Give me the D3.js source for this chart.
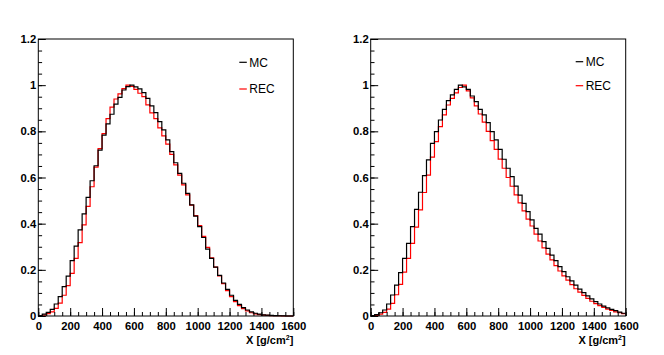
<!DOCTYPE html>
<html>
<head>
<meta charset="utf-8">
<script src="https://cdn.jsdelivr.net/npm/d3@7"></script>
<style>
  body { margin: 0; background: #fff; }
  svg { display: block; }
</style>
</head>
<body>
<div id="chart"></div>
<script>
// histogram binning: 64 bins of 25 g/cm2 from 0 to 1600
const binWidth = 25;
const xTickLabels = [0, 200, 400, 600, 800, 1000, 1200, 1400, 1600];
const yTickLabels = [0, 0.2, 0.4, 0.6, 0.8, 1, 1.2];
const seriesNames = ["MC", "REC"];

const mcLeft = [
  0.002, 0.008, 0.016, 0.029, 0.052, 0.084, 0.127, 0.173,
  0.240, 0.303, 0.373, 0.442, 0.514, 0.586, 0.651, 0.719,
  0.784, 0.832, 0.874, 0.918, 0.947, 0.979, 0.994, 1.000,
  0.993, 0.984, 0.968, 0.943, 0.910, 0.881, 0.842, 0.806,
  0.763, 0.712, 0.664, 0.618, 0.575, 0.531, 0.481, 0.433,
  0.387, 0.340, 0.290, 0.250, 0.212, 0.176, 0.143, 0.115,
  0.090, 0.068, 0.050, 0.036, 0.026, 0.018, 0.012, 0.008,
  0.005, 0.004, 0.003, 0.002, 0.001, 0.001, 0.000, 0.000
];
const recLeft = [
  0.001, 0.004, 0.010, 0.018, 0.033, 0.056, 0.090, 0.132,
  0.185, 0.250, 0.318, 0.395, 0.475, 0.560, 0.645, 0.725,
  0.790, 0.855, 0.905, 0.940, 0.962, 0.985, 1.000, 0.995,
  0.982, 0.965, 0.950, 0.915, 0.880, 0.855, 0.815, 0.780,
  0.745, 0.700, 0.655, 0.610, 0.568, 0.525, 0.480, 0.435,
  0.392, 0.345, 0.297, 0.252, 0.212, 0.174, 0.140, 0.110,
  0.084, 0.062, 0.045, 0.032, 0.022, 0.014, 0.009, 0.006,
  0.004, 0.003, 0.002, 0.001, 0.001, 0.000, 0.000, 0.000
];
const mcRight = [
  0.002, 0.006, 0.014, 0.026, 0.052, 0.091, 0.134, 0.188,
  0.250, 0.315, 0.387, 0.462, 0.536, 0.608, 0.676, 0.748,
  0.799, 0.849, 0.895, 0.933, 0.958, 0.982, 1.000, 0.993,
  0.982, 0.953, 0.929, 0.895, 0.871, 0.838, 0.799, 0.763,
  0.722, 0.679, 0.640, 0.604, 0.563, 0.524, 0.488, 0.452,
  0.416, 0.380, 0.355, 0.322, 0.293, 0.264, 0.240, 0.214,
  0.192, 0.170, 0.152, 0.134, 0.116, 0.101, 0.087, 0.074,
  0.062, 0.052, 0.043, 0.035, 0.029, 0.023, 0.017, 0.012
];
const recRight = [
  0.001, 0.003, 0.008, 0.016, 0.030, 0.055, 0.092, 0.137,
  0.190, 0.250, 0.315, 0.385, 0.460, 0.535, 0.610, 0.688,
  0.755, 0.820, 0.871, 0.914, 0.943, 0.967, 0.990, 1.000,
  0.975, 0.945, 0.910, 0.875, 0.840, 0.800, 0.760, 0.722,
  0.680, 0.640, 0.600, 0.562, 0.525, 0.490, 0.455, 0.420,
  0.390, 0.355, 0.325, 0.295, 0.268, 0.243, 0.218, 0.195,
  0.174, 0.155, 0.136, 0.118, 0.103, 0.089, 0.076, 0.064,
  0.054, 0.045, 0.037, 0.030, 0.024, 0.018, 0.014, 0.010
];

const colors = { MC: "#000000", REC: "#ff0000" };
const font = "'Liberation Sans', Arial, Helvetica, sans-serif";

const svg = d3.select("#chart")
  .append("svg")
  .attr("width", 664)
  .attr("height", 355);

function drawPanel(left, mc, rec, legend) {
  const width = 255, height = 277, top = 39;

  const g = svg.append("g")
    .attr("transform", `translate(${left}, ${top})`);

  const x = d3.scaleLinear().domain([0, 1600]).range([0, width]);
  const y = d3.scaleLinear().domain([0, 1.2]).range([height, 0]);

  // histograms, REC first so MC sits on top
  const line = d3.line()
    .x(d => x(d.x))
    .y(d => y(d.v))
    .curve(d3.curveStepAfter);

  const toPoints = vals => {
    const pts = vals.map((v, i) => ({ x: i * binWidth, v }));
    pts.push({ x: vals.length * binWidth, v: vals[vals.length - 1] });
    return pts;
  };

  [["REC", rec], ["MC", mc]].forEach(([name, vals]) => {
    g.append("path")
      .datum(toPoints(vals))
      .attr("fill", "none")
      .attr("stroke", colors[name])
      .attr("stroke-width", 1.2)
      .attr("d", line);
  });

  // minor ticks
  g.append("g")
    .attr("transform", `translate(0, ${height})`)
    .call(d3.axisBottom(x).tickValues(d3.range(0, 1601, 50)).tickSize(-4).tickFormat(""))
    .call(s => s.select(".domain").remove());
  g.append("g")
    .call(d3.axisLeft(y).tickValues(d3.range(0, 1.2001, 0.05)).tickSize(-3.8).tickFormat(""))
    .call(s => s.select(".domain").remove());

  // major ticks + labels
  const xAxis = g.append("g")
    .attr("transform", `translate(0, ${height})`)
    .call(d3.axisBottom(x).tickValues(xTickLabels).tickSize(-8).tickPadding(5.5).tickFormat(d3.format("d")));
  const yAxis = g.append("g")
    .call(d3.axisLeft(y).tickValues(yTickLabels).tickSize(-7.5).tickPadding(2).tickFormat(d => String(d)));

  [xAxis, yAxis].forEach(a => {
    a.selectAll("text")
      .style("font-family", font)
      .style("font-size", "11.3px")
      .style("font-weight", "bold")
      .attr("fill", "#000");
    a.selectAll("line").attr("stroke", "#000");
    a.select(".domain").remove();
  });

  // frame
  g.append("rect")
    .attr("x", 0).attr("y", 0)
    .attr("width", width).attr("height", height)
    .attr("fill", "none")
    .attr("stroke", "#000")
    .attr("stroke-width", 1);

  // axis title
  const title = g.append("text")
    .attr("x", width)
    .attr("y", height + 27.5)
    .attr("text-anchor", "end")
    .style("font-family", font)
    .style("font-size", "11px")
    .style("font-weight", "bold")
    .text("X [g/cm");
  title.append("tspan")
    .attr("dy", -4)
    .style("font-size", "7px")
    .text("2");
  title.append("tspan")
    .attr("dy", 4)
    .text("]");

  // legend
  seriesNames.forEach((name, i) => {
    const ly = legend.y[i];
    g.append("line")
      .attr("x1", legend.x).attr("x2", legend.x + 7.5)
      .attr("y1", ly - top).attr("y2", ly - top)
      .attr("stroke", colors[name])
      .attr("stroke-width", 1.2);
    g.append("text")
      .attr("x", legend.x + 10)
      .attr("y", ly - top + 4.3)
      .style("font-family", font)
      .style("font-size", "12px")
      .attr("fill", "#000")
      .text(name);
  });
}

drawPanel(38.3, mcLeft, recLeft, { x: 201, y: [62.3, 89] });
drawPanel(370.7, mcRight, recRight, { x: 205, y: [61.7, 85.7] });
</script>
</body>
</html>
